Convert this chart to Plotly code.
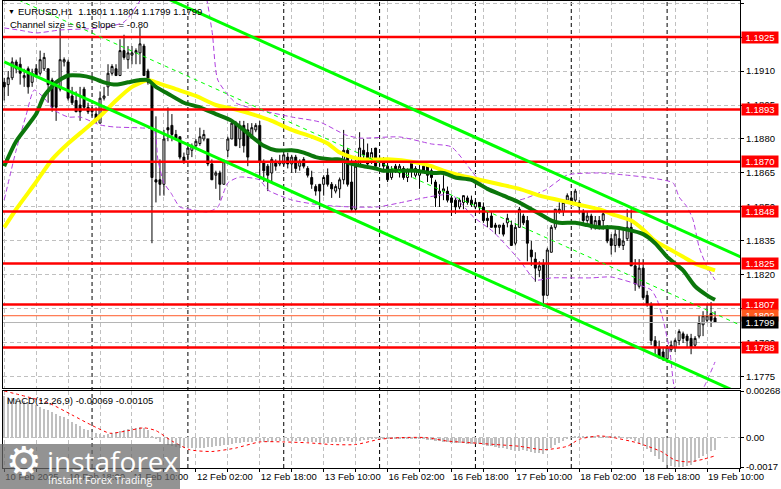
import plotly.graph_objects as go

# ---------------- data ----------------
opens = [1.1905,1.1904,1.1907,1.1914,1.1913,1.1907,1.1911,1.1905,1.1911,1.1909,
         1.1911,1.1911,1.1906,1.1903,1.1902,1.1914,1.1914,1.1899,1.1897,1.1895,
         1.1902,1.1894,1.1893,1.1891,1.1887,1.1898,1.1903,1.1909,1.1911,1.1908,
         1.1919,1.1915,1.1917,1.1918,1.1918,1.1921,1.1910,1.1904,1.1862,1.1862,
         1.1860,1.1885,1.1886,1.1882,1.1881,1.1872,1.1873,1.1875,1.1877,1.1878,
         1.1880,1.1880,1.1869,1.1864,1.1865,1.1860,1.1875,1.1880,1.1887,1.1880,
         1.1886,1.1884,1.1881,1.1884,1.1886,1.1870,1.1868,1.1865,1.1870,1.1869,
         1.1869,1.1872,1.1869,1.1872,1.1868,1.1871,1.1867,1.1863,1.1859,1.1860,
         1.1860,1.1864,1.1860,1.1857,1.1858,1.1862,1.1875,1.1861,1.1849,1.1868,
         1.1875,1.1874,1.1871,1.1876,1.1870,1.1871,1.1868,1.1863,1.1868,1.1865,
         1.1867,1.1863,1.1870,1.1864,1.1864,1.1868,1.1868,1.1866,1.1861,1.1856,
         1.1857,1.1857,1.1854,1.1853,1.1850,1.1852,1.1854,1.1853,1.1850,1.1852,
         1.1850,1.1845,1.1846,1.1842,1.1841,1.1842,1.1843,1.1842,1.1834,1.1841,
         1.1846,1.1844,1.1831,1.1827,1.1822,1.1825,1.1811,1.1830,1.1841,1.1848,
         1.1848,1.1853,1.1854,1.1853,1.1852,1.1848,1.1844,1.1846,1.1841,1.1844,
         1.1844,1.1841,1.1836,1.1833,1.1836,1.1833,1.1836,1.1841,1.1824,1.1815,
         1.1823,1.1811,1.1807,1.1791,1.1788,1.1786,1.1783,1.1787,1.1788,1.1791,
         1.1794,1.1793,1.1792,1.1789,1.1793,1.1798,1.1800,1.1803,1.1801]
highs = [1.1907,1.1910,1.1916,1.1915,1.1916,1.1911,1.1912,1.1911,1.1913,1.1919,
         1.1918,1.1911,1.1907,1.1905,1.1929,1.1916,1.1915,1.1903,1.1901,1.1903,
         1.1903,1.1896,1.1895,1.1894,1.1901,1.1903,1.1913,1.1913,1.1913,1.1924,
         1.1926,1.1921,1.1921,1.1920,1.1929,1.1922,1.1911,1.1904,1.1890,1.1871,
         1.1884,1.1894,1.1891,1.1884,1.1881,1.1874,1.1877,1.1878,1.1880,1.1885,
         1.1884,1.1880,1.1871,1.1866,1.1866,1.1871,1.1881,1.1888,1.1888,1.1888,
         1.1888,1.1887,1.1887,1.1887,1.1888,1.1871,1.1869,1.1872,1.1871,1.1873,
         1.1874,1.1874,1.1873,1.1873,1.1871,1.1872,1.1868,1.1866,1.1860,1.1860,
         1.1864,1.1867,1.1861,1.1860,1.1863,1.1884,1.1876,1.1871,1.1871,1.1883,
         1.1880,1.1878,1.1876,1.1876,1.1873,1.1872,1.1870,1.1868,1.1869,1.1869,
         1.1868,1.1867,1.1870,1.1868,1.1870,1.1870,1.1868,1.1867,1.1862,1.1860,
         1.1864,1.1859,1.1855,1.1854,1.1854,1.1855,1.1855,1.1855,1.1853,1.1852,
         1.1852,1.1848,1.1848,1.1843,1.1842,1.1843,1.1847,1.1844,1.1843,1.1850,
         1.1847,1.1846,1.1835,1.1830,1.1826,1.1827,1.1832,1.1842,1.1849,1.1852,
         1.1853,1.1856,1.1857,1.1858,1.1853,1.1849,1.1848,1.1847,1.1846,1.1846,
         1.1848,1.1842,1.1838,1.1840,1.1840,1.1840,1.1849,1.1849,1.1827,1.1827,
         1.1827,1.1813,1.1808,1.1793,1.1791,1.1788,1.1789,1.1791,1.1792,1.1796,
         1.1795,1.1794,1.1794,1.1793,1.1802,1.1804,1.1807,1.1808,1.1804]
lows = [1.1897,1.1899,1.1906,1.1909,1.1904,1.1903,1.1900,1.1903,1.1907,1.1908,
        1.1910,1.1896,1.1892,1.1888,1.1901,1.1912,1.1897,1.1895,1.1892,1.1888,
        1.1893,1.1891,1.1890,1.1887,1.1887,1.1897,1.1899,1.1908,1.1908,1.1908,
        1.1915,1.1911,1.1913,1.1913,1.1913,1.1908,1.1904,1.1834,1.1852,1.1855,
        1.1855,1.1879,1.1879,1.1880,1.1871,1.1869,1.1871,1.1872,1.1876,1.1877,
        1.1879,1.1868,1.1862,1.1858,1.1853,1.1860,1.1872,1.1880,1.1877,1.1876,
        1.1874,1.1868,1.1880,1.1883,1.1862,1.1861,1.1857,1.1861,1.1866,1.1868,
        1.1868,1.1867,1.1865,1.1865,1.1866,1.1867,1.1863,1.1858,1.1855,1.1849,
        1.1855,1.1859,1.1854,1.1856,1.1854,1.1860,1.1859,1.1848,1.1848,1.1868,
        1.1871,1.1868,1.1869,1.1867,1.1868,1.1866,1.1861,1.1862,1.1865,1.1863,
        1.1862,1.1861,1.1863,1.1863,1.1858,1.1865,1.1861,1.1860,1.1850,1.1850,
        1.1853,1.1852,1.1846,1.1847,1.1849,1.1849,1.1851,1.1850,1.1849,1.1847,
        1.1843,1.1841,1.1841,1.1838,1.1838,1.1837,1.1841,1.1833,1.1833,1.1841,
        1.1842,1.1826,1.1824,1.1817,1.1819,1.1806,1.1811,1.1830,1.1840,1.1847,
        1.1846,1.1852,1.1851,1.1852,1.1847,1.1842,1.1843,1.1840,1.1840,1.1840,
        1.1840,1.1834,1.1829,1.1830,1.1832,1.1831,1.1835,1.1824,1.1813,1.1814,
        1.1809,1.1806,1.1789,1.1785,1.1783,1.1782,1.1782,1.1786,1.1786,1.1789,
        1.1790,1.1788,1.1785,1.1788,1.1792,1.1793,1.1799,1.1797,1.1799]
closes = [1.1903,1.1907,1.1914,1.1911,1.1909,1.1908,1.1903,1.1909,1.1908,1.1915,
          1.1916,1.1904,1.1894,1.1894,1.1915,1.1915,1.1898,1.1896,1.1892,1.1892,
          1.1894,1.1892,1.1892,1.1888,1.1898,1.1899,1.1909,1.1912,1.1908,1.1919,
          1.1916,1.1918,1.1918,1.1919,1.1922,1.1908,1.1905,1.1863,1.1861,1.1860,
          1.1880,1.1884,1.1882,1.1880,1.1872,1.1870,1.1876,1.1877,1.1879,1.1881,
          1.1882,1.1869,1.1862,1.1865,1.1860,1.1870,1.1880,1.1887,1.1877,1.1886,
          1.1877,1.1872,1.1885,1.1886,1.1870,1.1866,1.1864,1.1871,1.1868,1.1870,
          1.1873,1.1869,1.1872,1.1867,1.1870,1.1868,1.1864,1.1860,1.1857,1.1857,
          1.1863,1.1860,1.1858,1.1859,1.1862,1.1875,1.1860,1.1849,1.1868,1.1876,
          1.1873,1.1869,1.1874,1.1868,1.1871,1.1868,1.1862,1.1866,1.1866,1.1868,
          1.1863,1.1866,1.1866,1.1867,1.1866,1.1866,1.1864,1.1863,1.1854,1.1857,
          1.1858,1.1853,1.1852,1.1850,1.1853,1.1855,1.1852,1.1851,1.1852,1.1850,
          1.1844,1.1844,1.1841,1.1841,1.1842,1.1838,1.1845,1.1833,1.1841,1.1849,
          1.1843,1.1834,1.1828,1.1823,1.1824,1.1811,1.1831,1.1841,1.1849,1.1849,
          1.1852,1.1855,1.1852,1.1857,1.1850,1.1844,1.1846,1.1841,1.1844,1.1841,
          1.1847,1.1835,1.1833,1.1838,1.1833,1.1835,1.1841,1.1824,1.1816,1.1823,
          1.1810,1.1807,1.1791,1.1788,1.1784,1.1783,1.1788,1.1789,1.1791,1.1795,
          1.1792,1.1791,1.1788,1.1792,1.1799,1.1802,1.1802,1.1800,1.1799]
bars = list(range(len(opens)))

# moving averages (bar index, price)
ma_fast_bars = [0,3,8,10,13,16,19,22,25,28,31,34,36,38,41,45,49,53,57,60,62,65,68,72,75,78,82,84,87,90,93,95,99,103,107,110,113,117,121,125,129,132,135,137,139,143,146,149,152,156,160,163,166,170,173,176,178]
ma_fast = [1.1868,1.1879,1.1891,1.1899,1.1905,1.1908,1.1908,1.1907,1.1905,1.1904,1.1905,1.1906,1.1906,1.1903,1.1900,1.1896,1.1894,1.1891,1.1888,1.1884,1.1881,1.1877,1.1875,1.1875,1.1874,1.1872,1.1871,1.1871,1.1869,1.1868,1.1867,1.1866,1.1866,1.1866,1.1865,1.1865,1.1863,1.1862,1.1858,1.1855,1.1852,1.1849,1.1846,1.1844,1.1843,1.1843,1.1842,1.1841,1.1841,1.1840,1.1838,1.1834,1.1828,1.1822,1.1815,1.1811,1.1809]
ma_slow_bars = [0,3,8,12,16,20,24,28,32,36,38,43,48,53,58,62,67,72,77,81,84,87,90,97,102,107,110,114,119,124,129,134,139,144,149,152,157,160,163,167,170,173,178]
ma_slow = [1.1841,1.1849,1.1861,1.1871,1.1878,1.1884,1.1890,1.1897,1.1903,1.1906,1.1905,1.1902,1.1899,1.1895,1.1893,1.1891,1.1888,1.1884,1.1881,1.1878,1.1874,1.1872,1.1871,1.1871,1.1870,1.1868,1.1866,1.1864,1.1862,1.1860,1.1858,1.1855,1.1853,1.1851,1.1849,1.1847,1.1844,1.1840,1.1835,1.1831,1.1828,1.1825,1.1822]

# bands
bb_up_bars = [0,4,8,14,24,30,34,37,49,52,53.5,58,64,72,79,85.5,89,99,107,112,120,126,129,135.5,141,149,155.5,162,167.5,169,171,172.5,174,176,178]
bb_up = [1.1929,1.1928,1.19268,1.19281,1.19290,1.19316,1.19410,1.19500,1.19500,1.19281,1.19060,1.18959,1.18928,1.18897,1.18875,1.18818,1.18804,1.18809,1.18778,1.18765,1.18597,1.18544,1.18531,1.18575,1.18641,1.18650,1.18641,1.18628,1.18606,1.18544,1.18500,1.18443,1.18324,1.18235,1.18178]
bb_low_bars = [0,3,5.5,7.5,10,12.5,16,19,24,27.5,34,37.5,38.5,40,41.75,44,47.5,51,53.5,56,59,64,66,72,79,87,93.5,99,105,112,117.5,122.5,129,133,137,142.5,147,152,159,162,163.5,165,166.75,168,172,175.5,178]
bb_low = [1.18531,1.18751,1.18906,1.19016,1.18981,1.18928,1.18897,1.18897,1.18862,1.18853,1.18849,1.18840,1.18707,1.18606,1.18562,1.18500,1.18487,1.18478,1.18500,1.18606,1.18632,1.18619,1.18575,1.18531,1.18509,1.18500,1.18500,1.18518,1.18540,1.18553,1.18456,1.18390,1.18266,1.18178,1.18187,1.18187,1.18187,1.18191,1.18156,1.18134,1.18090,1.18002,1.17856,1.17693,1.17604,1.17715,1.17816]

# regression channel (middle line end points) and half width
channel_bars = [0, 186]
channel_mid = [1.19442, 1.17965]
channel_half = 0.00302

# horizontal levels
levels = [1.1925, 1.1893, 1.1870, 1.1848, 1.1825, 1.1807, 1.1788]
ask_price = 1.1802
bid_price = 1.1799

# MACD
macd_hist = [
0.00240,0.00236,0.00230,0.00224,0.00218,0.00210,0.00202,0.00194,0.00185,0.00176,
0.00167,0.00158,0.00148,0.00138,0.00126,0.00116,0.00105,0.00092,0.00078,0.00064,
0.00052,0.00042,0.00032,0.00024,0.00018,0.00016,0.00020,0.00026,0.00033,0.00040,
0.00046,0.00051,0.00055,0.00058,0.00060,0.00055,0.00042,0.00012,-0.00010,-0.00024,
-0.00035,-0.00045,-0.00050,-0.00055,-0.00058,-0.00060,-0.00062,-0.00062,-0.00060,-0.00060,
-0.00058,-0.00055,-0.00052,-0.00050,-0.00048,-0.00045,-0.00040,-0.00035,-0.00032,-0.00030,
-0.00028,-0.00026,-0.00024,-0.00022,-0.00022,-0.00024,-0.00025,-0.00024,-0.00022,-0.00020,
-0.00018,-0.00018,-0.00017,-0.00018,-0.00020,-0.00022,-0.00024,-0.00026,-0.00028,-0.00030,
-0.00030,-0.00030,-0.00028,-0.00028,-0.00026,-0.00022,-0.00022,-0.00025,-0.00022,-0.00018,
-0.00015,-0.00012,-0.00010,-0.00008,-0.00008,-0.00006,-0.00006,-0.00005,-0.00005,-0.00006,
-0.00007,-0.00008,-0.00008,-0.00009,-0.00010,-0.00010,-0.00012,-0.00014,-0.00018,-0.00022,
-0.00025,-0.00028,-0.00030,-0.00032,-0.00033,-0.00034,-0.00035,-0.00036,-0.00037,-0.00038,
-0.00042,-0.00046,-0.00050,-0.00055,-0.00058,-0.00062,-0.00066,-0.00072,-0.00076,-0.00075,
-0.00074,-0.00078,-0.00082,-0.00086,-0.00090,-0.00094,-0.00080,-0.00062,-0.00045,-0.00030,
-0.00018,-0.00008,-0.00002,0.00004,0.00008,0.00010,0.00011,0.00012,0.00012,0.00012,
0.00011,0.00010,0.00008,0.00006,0.00004,0.00001,-0.00003,-0.00010,-0.00022,-0.00035,
-0.00050,-0.00065,-0.00085,-0.00105,-0.00125,-0.00142,-0.00155,-0.00165,-0.00170,-0.00172,
-0.00170,-0.00165,-0.00155,-0.00140,-0.00120,-0.00105,-0.00092,-0.00080,-0.00069]
sig_bars = [0,11,17,22,26.5,31,35,38,42,46.5,52,58,64,70,76,82,88,94,99.5,105.5,111,117,123,129,135,141,144,149,152.5,158.5,164.5,168,171.5,175,178]
sig_vals = [0.00268,0.00200,0.00130,0.00070,0.00025,0.00040,0.00056,0.00040,-0.00020,-0.00070,-0.00080,-0.00060,-0.00025,-0.00025,-0.00030,-0.00040,-0.00040,-0.00010,0.00000,0.00000,-0.00020,-0.00030,-0.00040,-0.00050,-0.00070,-0.00050,-0.00010,0.00010,0.00000,-0.00030,-0.00080,-0.00130,-0.00140,-0.00125,-0.00105]

# axis labels
x_label_bars = [0,16,32,48,64,80,96,112,128,144,160,176]
x_labels = ["10 Feb 2025","10 Feb 18:00","11 Feb 10:00","12 Feb 02:00","12 Feb 18:00","13 Feb 10:00",
            "16 Feb 02:00","16 Feb 18:00","17 Feb 10:00","18 Feb 02:00","18 Feb 18:00","19 Feb 10:00"]
separator_bars = [22, 46, 70, 94, 118, 142, 166]
price_ticks = [1.1775, 1.1790, 1.1805, 1.1820, 1.1835, 1.1850, 1.1865, 1.1880, 1.1895, 1.1910, 1.1925, 1.1940]
macd_ticks = [0.00268, 0.0, -0.0017]
macd_tick_text = ["0.00268", "0.00", "-0.0017"]

# ---------------- layout geometry ----------------
W, H = 781, 489
ML, MR, MT, MB = 3, 41, 1, 21
PW, PH = W - ML - MR, H - MT - MB
def px(xp):
    return (xp - ML) / PW
def py(yp):
    return (H - MB - yp) / PH

FONT = "Liberation Sans, Arial, sans-serif"
GRID = "#c0c0c0"

fig = go.Figure()

band_style = dict(color="#b040e0", width=1, dash="5px,3px", shape="spline", smoothing=0.6)
fig.add_trace(go.Scatter(x=bb_up_bars, y=bb_up, mode="lines", line=band_style, xaxis="x", yaxis="y"))
fig.add_trace(go.Scatter(x=bb_low_bars, y=bb_low, mode="lines", line=band_style, xaxis="x", yaxis="y"))

fig.add_trace(go.Candlestick(
    x=bars, open=opens, high=highs, low=lows, close=closes,
    increasing=dict(line=dict(color="black", width=1), fillcolor="white"),
    decreasing=dict(line=dict(color="black", width=1), fillcolor="black"),
    whiskerwidth=0, xaxis="x", yaxis="y"))

fig.add_trace(go.Scatter(x=ma_slow_bars, y=ma_slow, mode="lines",
                         line=dict(color="#ffff00", width=4, shape="spline", smoothing=0.6),
                         xaxis="x", yaxis="y"))
fig.add_trace(go.Scatter(x=ma_fast_bars, y=ma_fast, mode="lines",
                         line=dict(color="#0b760b", width=4, shape="spline", smoothing=0.6),
                         xaxis="x", yaxis="y"))

# horizontal levels
xr = [-5, 200]
for lv in levels:
    fig.add_trace(go.Scatter(x=xr, y=[lv, lv], mode="lines", line=dict(color="#ff0000", width=2.5),
                             xaxis="x", yaxis="y"))
fig.add_trace(go.Scatter(x=xr, y=[ask_price, ask_price], mode="lines", line=dict(color="#ff5a2a", width=1),
                         xaxis="x", yaxis="y"))
fig.add_trace(go.Scatter(x=xr, y=[bid_price, bid_price], mode="lines", line=dict(color="#b4b4b4", width=1),
                         xaxis="x", yaxis="y"))

# channel
up_line = [m + channel_half for m in channel_mid]
lo_line = [m - channel_half for m in channel_mid]
fig.add_trace(go.Scatter(x=channel_bars, y=up_line, mode="lines", line=dict(color="#00ff00", width=3), xaxis="x", yaxis="y"))
fig.add_trace(go.Scatter(x=channel_bars, y=lo_line, mode="lines", line=dict(color="#00ff00", width=3), xaxis="x", yaxis="y"))
fig.add_trace(go.Scatter(x=channel_bars, y=channel_mid, mode="lines", line=dict(color="#00ff00", width=1, dash="4px,4px"), xaxis="x", yaxis="y"))

# MACD
fig.add_trace(go.Bar(x=bars, y=macd_hist, marker=dict(color="#c0c0c0", line=dict(width=0)), width=0.55,
                     xaxis="x2", yaxis="y2"))
fig.add_trace(go.Scatter(x=sig_bars, y=sig_vals, mode="lines",
                         line=dict(color="#ff0000", width=1, dash="3px,3px", shape="spline", smoothing=0.6),
                         xaxis="x2", yaxis="y2"))

# separators
shapes = []
for b in separator_bars:
    shapes.append(dict(type="line", xref="x", yref="paper", x0=b, x1=b, y0=0, y1=1,
                       line=dict(color="black", width=1, dash="4px,3px"), layer="between"))

# watermark background
shapes.append(dict(type="rect", xref="paper", yref="paper", x0=px(0), x1=px(180), y0=py(489), y1=py(444),
                   fillcolor="rgba(105,105,105,0.72)", line=dict(width=0), layer="above"))

tick_vals_x = list(range(0, 185, 8))
tick_text_x = [x_labels[x_label_bars.index(v)] if v in x_label_bars else "" for v in tick_vals_x]

main_dom = [py(388), 1]
macd_dom = [0, py(391)]

axis_common = dict(showline=True, linecolor="black", linewidth=1, mirror=True, zeroline=False,
                   gridcolor=GRID, gridwidth=1, griddash="4px,3px", automargin=False)

fig.update_layout(
    width=W, height=H, margin=dict(l=ML, r=MR, t=MT, b=MB),
    paper_bgcolor="white", plot_bgcolor="white", showlegend=False, hovermode=False,
    font=dict(family=FONT, size=9.5, color="black"),
    bargap=0,
    xaxis=dict(axis_common, domain=[0, 1], range=[-0.3, 184.25], anchor="y",
               tickvals=tick_vals_x, showticklabels=False, ticks="", rangeslider=dict(visible=False)),
    xaxis2=dict(axis_common, domain=[0, 1], range=[-0.3, 184.25], anchor="y2", matches="x",
                tickvals=tick_vals_x, ticktext=tick_text_x, ticks="outside", ticklen=3, tickcolor="black",
                ticklabelposition="outside right", tickangle=0, tickfont=dict(size=9.5)),
    yaxis=dict(axis_common, domain=main_dom, range=[1.17701, 1.19409], anchor="x", side="right",
               tickvals=price_ticks, ticktext=[f"{v:.4f}" for v in price_ticks],
               ticks="outside", ticklen=3, tickcolor="black"),
    yaxis2=dict(axis_common, domain=macd_dom, range=[-0.00175, 0.00268], anchor="x2", side="right",
                tickvals=macd_ticks, ticktext=macd_tick_text, ticks="outside", ticklen=3, tickcolor="black"),
    shapes=shapes,
)

ann = []
# right side price labels
for lv in levels:
    ann.append(dict(xref="paper", yref="y", x=1, y=lv, xanchor="left", yanchor="middle", xshift=1,
                    text=f"{lv:.4f}", showarrow=False, bgcolor="#ff0000", font=dict(color="white", size=9.5),
                    width=36, height=11, borderpad=0))
ann.append(dict(xref="paper", yref="y", x=1, y=ask_price, xanchor="left", yanchor="middle", xshift=1,
                text=f"{ask_price:.4f}", showarrow=False, bgcolor="#ff5a1e", font=dict(color="white", size=9.5),
                width=36, height=11, borderpad=0))
ann.append(dict(xref="paper", yref="y", x=1, y=bid_price, xanchor="left", yanchor="middle", xshift=1,
                text=f"{bid_price:.4f}", showarrow=False, bgcolor="#000000", font=dict(color="white", size=9.5),
                width=36, height=11, borderpad=0))

# header texts
ann.append(dict(xref="paper", yref="paper", x=px(6), y=py(11), xanchor="left", yanchor="middle",
                text="▼", showarrow=False, font=dict(size=7)))
ann.append(dict(xref="paper", yref="paper", x=px(16), y=py(11), xanchor="left", yanchor="middle",
                text="EURUSD,H1  1.1801 1.1804 1.1799 1.1799", showarrow=False, font=dict(size=9.5)))
ann.append(dict(xref="paper", yref="paper", x=px(8), y=py(24), xanchor="left", yanchor="middle",
                text="Channel size = 61  Slope = -0.80", showarrow=False, font=dict(size=9.5)))
ann.append(dict(xref="paper", yref="paper", x=px(5), y=py(400), xanchor="left", yanchor="middle",
                text="MACD(12,26,9) -0.00069 -0.00105", showarrow=False, font=dict(size=9.5)))

# watermark texts
ann.append(dict(xref="paper", yref="paper", x=px(24), y=py(461), xanchor="center", yanchor="middle",
                text="⚙", showarrow=False, font=dict(size=40, color="white", family="DejaVu Sans")))
ann.append(dict(xref="paper", yref="paper", x=px(45), y=py(461), xanchor="left", yanchor="middle",
                text="instaforex", showarrow=False, font=dict(size=28, color="white", family="Open Sans")))
ann.append(dict(xref="paper", yref="paper", x=px(46), y=py(480), xanchor="left", yanchor="middle",
                text="Instant Forex Trading", showarrow=False, font=dict(size=10.5, color="white", family="Open Sans")))

fig.update_layout(annotations=ann)
fig.write_html("out.html", config={"displayModeBar": False},
               post_script="document.body.style.margin='0';document.body.style.padding='0';")
